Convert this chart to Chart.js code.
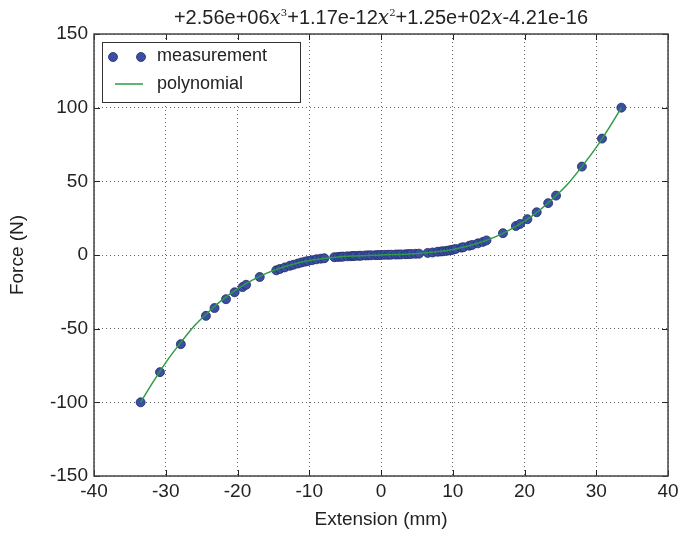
<!DOCTYPE html>
<html>
<head>
<meta charset="utf-8">
<script src="https://cdn.jsdelivr.net/npm/chart.js@4.4.0/dist/chart.umd.min.js"></script>
<style>
  html, body { margin: 0; padding: 0; background: #fff; }
  #wrap { width: 678px; height: 535px; }
</style>
</head>
<body>
<div id="wrap"><canvas id="forceChart" width="678" height="535"></canvas></div>
<script>
// measured points (extension in mm, force in N)
const extension = [
  -33.5, -30.8, -27.9, -24.4, -23.2, -21.6, -20.4, -19.3, -18.8, -16.9,
  -14.6, -14.1, -13.4, -12.7, -12.2, -11.6, -11.1, -10.6, -10.2, -9.6, -9.0,
  -8.4, -7.9, -6.5, -6.0, -5.6, -5.3, -4.7, -4.2, -3.9, -3.6, -3.1, -2.8, -2.2,
  -1.8, -1.4, -0.8, -0.4, 0.0, 0.5, 1.0, 1.4, 2.0, 2.4, 2.8, 3.4, 3.8, 4.2, 4.8,
  5.3, 6.5, 7.2, 7.9, 8.4, 8.7, 9.2, 9.6, 10.0, 10.4, 11.2, 11.5,
  12.3, 12.7, 13.5, 14.2, 14.7, 17.0, 18.8, 19.4, 20.4, 21.7,
  23.3, 24.4, 28.0, 30.8, 33.5
];
const force = [
  -100, -79.5, -60.5, -41.3, -36.0, -30.0, -25.3, -21.8, -20.2, -14.9,
  -10.4, -9.5, -8.4, -7.3, -6.6, -5.8, -5.1, -4.5, -4.1, -3.5, -2.9,
  -2.5, -2.2, -1.5, -1.3, -1.2, -1.1, -0.9, -0.8, -0.7, -0.6, -0.55, -0.5, -0.3,
  -0.25, -0.2, -0.1, -0.05, 0.0, 0.1, 0.15, 0.2, 0.3, 0.35, 0.4, 0.5, 0.6, 0.7, 0.8,
  0.9, 1.4, 1.7, 2.2, 2.4, 2.6, 2.9, 3.2, 3.6, 4.1, 5.0, 5.3,
  6.3, 6.8, 7.9, 8.9, 9.9, 14.8, 19.7, 21.1, 24.3, 29.0,
  35.2, 40.3, 60.0, 79.0, 100
];

// fitted polynomial curve
const fitX = [-33.5, -32, -30, -28, -26, -24, -22, -20, -18, -16, -14, -12, -10, -8, -6, -4, -2, 0,
              2, 4, 6, 8, 10, 12, 14, 16, 18, 20, 22, 24, 26, 28, 30, 32, 33.5];
const fitY = [-100, -88, -73, -60, -48, -38.5, -30, -23, -17.2, -12.5, -8.8, -5.9, -3.8, -2.3, -1.3, -0.7, -0.3, 0,
              0.3, 0.7, 1.3, 2.3, 3.8, 5.9, 8.8, 12.5, 17.2, 23, 30, 38.5, 48, 60, 73, 88, 100];

// title pieces: coefficient and power of x that follows it
const titleCoefs = ['+2.56e+06', '+1.17e-12', '+1.25e+02', '-4.21e-16'];
const titlePowers = ['3', '2', '1', null];

const seriesNames = ['measurement', 'polynomial'];

const FONT = '"Liberation Sans", Arial, sans-serif';
const pointFill = '#3a4fa3';
const pointEdge = '#1f2b66';
const lineColor = '#2e9b45';
const textColor = '#222';

const measurePoints = extension.map((x, i) => ({ x: x, y: force[i] }));
const fitPoints = fitX.map((x, i) => ({ x: x, y: fitY[i] }));

// frame, inward ticks, title and legend in matplotlib style
const mplDecor = {
  id: 'mplDecor',
  afterDraw(chart) {
    const c = chart.ctx;
    const a = chart.chartArea;
    const xs = chart.scales.x;
    const ys = chart.scales.y;
    c.save();

    // inward tick marks on all four sides
    c.strokeStyle = '#222';
    c.lineWidth = 1;
    c.beginPath();
    xs.ticks.forEach(t => {
      const px = Math.round(xs.getPixelForValue(t.value)) + 0.5;
      c.moveTo(px, a.bottom); c.lineTo(px, a.bottom - 6);
      c.moveTo(px, a.top); c.lineTo(px, a.top + 6);
    });
    ys.ticks.forEach(t => {
      const py = Math.round(ys.getPixelForValue(t.value)) + 0.5;
      c.moveTo(a.left, py); c.lineTo(a.left + 6, py);
      c.moveTo(a.right, py); c.lineTo(a.right - 6, py);
    });
    c.stroke();

    // frame
    c.strokeStyle = '#444';
    c.lineWidth = 1.5;
    c.strokeRect(a.left, a.top, a.right - a.left, a.bottom - a.top);

    // title with italic x and superscript powers
    const parts = [];
    titleCoefs.forEach((coef, i) => {
      parts.push({ text: coef, font: '20px ' + FONT, dy: 0 });
      if (titlePowers[i] !== null) {
        parts.push({ text: 'x', font: 'italic 20px "DejaVu Serif", "Liberation Serif", serif', dy: 0 });
        if (titlePowers[i] !== '1') {
          parts.push({ text: titlePowers[i], font: '10px "DejaVu Serif", serif', dy: -8 });
        }
      }
    });
    let total = 0;
    parts.forEach(p => { c.font = p.font; p.w = c.measureText(p.text).width; total += p.w; });
    let tx = (a.left + a.right) / 2 - total / 2;
    c.fillStyle = textColor;
    c.textBaseline = 'alphabetic';
    c.textAlign = 'left';
    parts.forEach(p => {
      c.font = p.font;
      c.fillText(p.text, tx, 24 + p.dy);
      tx += p.w;
    });

    // legend box
    const lx = 102, ly = 42, lw = 198, lh = 60;
    c.fillStyle = '#fff';
    c.fillRect(lx, ly, lw, lh);
    c.strokeStyle = '#333';
    c.lineWidth = 1;
    c.strokeRect(lx + 0.5, ly + 0.5, lw, lh);

    // measurement entry: two markers
    [113, 141].forEach(mx => {
      c.beginPath();
      c.arc(mx, 57, 4.5, 0, Math.PI * 2);
      c.fillStyle = pointFill;
      c.fill();
      c.strokeStyle = pointEdge;
      c.lineWidth = 0.8;
      c.stroke();
    });
    // polynomial entry: short line
    c.beginPath();
    c.moveTo(115, 84);
    c.lineTo(143, 84);
    c.strokeStyle = lineColor;
    c.lineWidth = 1.5;
    c.stroke();

    c.fillStyle = textColor;
    c.font = '18px ' + FONT;
    c.textBaseline = 'middle';
    c.fillText(seriesNames[0], 157, 56);
    c.fillText(seriesNames[1], 157, 84);
    c.restore();
  }
};

const ctx = document.getElementById('forceChart').getContext('2d');
new Chart(ctx, {
  type: 'scatter',
  data: {
    datasets: [
      {
        label: seriesNames[1],
        data: fitPoints,
        showLine: true,
        borderColor: lineColor,
        borderWidth: 1.5,
        pointRadius: 0,
        cubicInterpolationMode: 'monotone',
        fill: false,
        order: 0
      },
      {
        label: seriesNames[0],
        data: measurePoints,
        backgroundColor: pointFill,
        borderColor: pointEdge,
        borderWidth: 0.8,
        pointRadius: 4.5,
        order: 1
      }
    ]
  },
  options: {
    responsive: false,
    animation: false,
    layout: { padding: { left: 0, right: 10, top: 34, bottom: 0 } },
    plugins: {
      legend: { display: false },
      title: { display: false },
      tooltip: { enabled: false }
    },
    scales: {
      x: {
        type: 'linear',
        min: -40,
        max: 40,
        ticks: {
          stepSize: 10,
          padding: 4,
          color: textColor,
          font: { family: FONT, size: 19 }
        },
        grid: { color: '#666', lineWidth: 1, drawTicks: false },
        border: { display: false, dash: [1, 3] },
        title: {
          display: true,
          text: 'Extension (mm)',
          color: textColor,
          font: { family: FONT, size: 19 },
          padding: { top: 2 }
        },
        afterFit(scale) {
          scale.height = 59;
          scale.paddingLeft = 0;
          scale.paddingRight = 0;
        }
      },
      y: {
        type: 'linear',
        min: -150,
        max: 150,
        ticks: {
          stepSize: 50,
          padding: 6,
          color: textColor,
          font: { family: FONT, size: 19 }
        },
        grid: { color: '#666', lineWidth: 1, drawTicks: false },
        border: { display: false, dash: [1, 3] },
        title: {
          display: true,
          text: 'Force (N)',
          color: textColor,
          font: { family: FONT, size: 19 },
          padding: { top: 6, bottom: 2 }
        },
        afterFit(scale) {
          scale.width = 94;
          scale.paddingTop = 0;
          scale.paddingBottom = 0;
        }
      }
    }
  },
  plugins: [mplDecor]
});
</script>
</body>
</html>
